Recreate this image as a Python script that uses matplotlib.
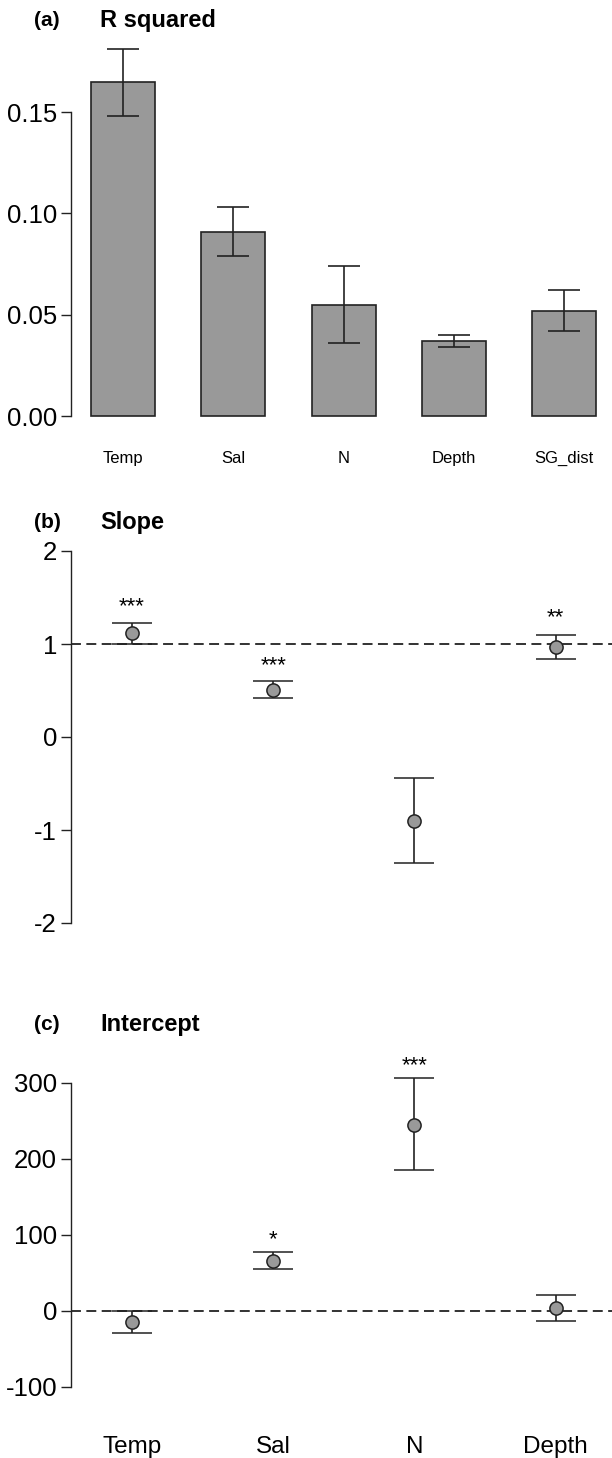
import numpy as np
import matplotlib
matplotlib.use("Agg")
import matplotlib.pyplot as plt

plt.rcParams["font.family"] = ["Liberation Sans", "DejaVu Sans"]
plt.rcParams["axes.unicode_minus"] = False

# (a) R squared
r2_labels = ["Temp", "Sal", "N", "Depth", "SG_dist"]
r2_mean = [0.165, 0.091, 0.055, 0.037, 0.052]
r2_low = [0.148, 0.079, 0.036, 0.034, 0.042]
r2_high = [0.181, 0.103, 0.074, 0.040, 0.062]

# (b) Slope
vars4 = ["Temp", "Sal", "N", "Depth"]
slope = [1.115, 0.51, -0.90, 0.97]
slope_low = [1.0, 0.42, -1.36, 0.835]
slope_high = [1.23, 0.60, -0.44, 1.10]
slope_stars = ["***", "***", "", "**"]
slope_star_y = [1.40, 0.77, None, 1.28]

# (c) Intercept
icpt = [-14, 66, 245, 4]
icpt_low = [-28.5, 55, 185, -13]
icpt_high = [0, 77, 306, 21]
icpt_stars = ["", "*", "***", ""]
icpt_star_y = [None, 94, 323, None]

W, H = 612, 1458
fig = plt.figure(figsize=(W / 100, H / 100), dpi=100)


def add_ax(left, right, top, bottom):
    # pixel box -> figure fraction
    return fig.add_axes([left / W, 1 - bottom / H, (right - left) / W, (bottom - top) / H])


def style(ax):
    for s in ["top", "right", "bottom"]:
        ax.spines[s].set_visible(False)
    ax.spines["left"].set_linewidth(1.0)
    ax.spines["left"].set_color("#222222")
    ax.tick_params(axis="y", direction="out", length=7, width=1.0, labelsize=18.5,
                   pad=3, color="#222222")
    ax.tick_params(axis="x", length=0)
    ax.patch.set_alpha(0)


GRAY = "#999999"

# ---- panel a
ax1 = add_ax(71, 612, 112, 416)
x1 = np.arange(len(r2_labels))
err1 = [np.array(r2_mean) - np.array(r2_low), np.array(r2_high) - np.array(r2_mean)]
bars = ax1.bar(x1, r2_mean, width=0.58, color=GRAY, edgecolor="#222222", linewidth=1.2)
for b in bars:
    b.set_clip_on(False)
eb = ax1.errorbar(x1, r2_mean, yerr=err1, fmt="none", ecolor="#222222", elinewidth=1.2,
                  capsize=11.5, capthick=1.2)
for art in eb.lines[1] + eb.lines[2]:
    art.set_clip_on(False)
ax1.set_xlim(-0.471, 4.433)
ax1.set_ylim(0, 0.15)
ax1.set_yticks([0, 0.05, 0.10, 0.15])
ax1.set_yticklabels(["0.00", "0.05", "0.10", "0.15"])
ax1.set_xticks(x1)
ax1.set_xticklabels(r2_labels, fontsize=12)
style(ax1)
ax1.tick_params(axis="x", pad=25)


def point_panel(ax, vals, lo, hi, stars, star_y, ref):
    x = np.arange(1, len(vals) + 1)
    ax.axhline(ref, color="#222222", lw=1.3, ls=(0, (5.5, 3)), zorder=1)
    err = [np.array(vals) - np.array(lo), np.array(hi) - np.array(vals)]
    e = ax.errorbar(x, vals, yerr=err, fmt="o", ms=9.5, mfc=GRAY, mec="#222222", mew=1.1,
                    ecolor="#222222", elinewidth=1.2, capsize=14.5, capthick=1.2, zorder=3)
    for art in [e.lines[0]] + list(e.lines[1]) + list(e.lines[2]):
        art.set_clip_on(False)
    for xi, s, sy in zip(x, stars, star_y):
        if s:
            ax.text(xi, sy, s, ha="center", va="center", fontsize=16)
    ax.set_xlim(0.568, 4.40)
    ax.set_xticks(x)
    style(ax)


# ---- panel b
ax2 = add_ax(71, 612, 551, 923)
point_panel(ax2, slope, slope_low, slope_high, slope_stars, slope_star_y, 1)
ax2.set_ylim(-2, 2)
ax2.set_yticks([-2, -1, 0, 1, 2])
ax2.set_xticklabels([])

# ---- panel c
ax3 = add_ax(71, 612, 1083, 1387)
point_panel(ax3, icpt, icpt_low, icpt_high, icpt_stars, icpt_star_y, 0)
ax3.set_ylim(-100, 300)
ax3.set_yticks([-100, 0, 100, 200, 300])
ax3.set_xticklabels(vars4, fontsize=17.5)
ax3.tick_params(axis="x", pad=35)

# panel titles
for lab, ttl, y in [("(a)", "R squared", 21), ("(b)", "Slope", 522), ("(c)", "Intercept", 1025)]:
    fig.text(34 / W, 1 - y / H, lab, fontsize=15, fontweight="bold", va="center", ha="left")
    fig.text(100 / W, 1 - y / H, ttl, fontsize=17, fontweight="bold", va="center", ha="left")

fig.savefig("out.png", dpi=100)
